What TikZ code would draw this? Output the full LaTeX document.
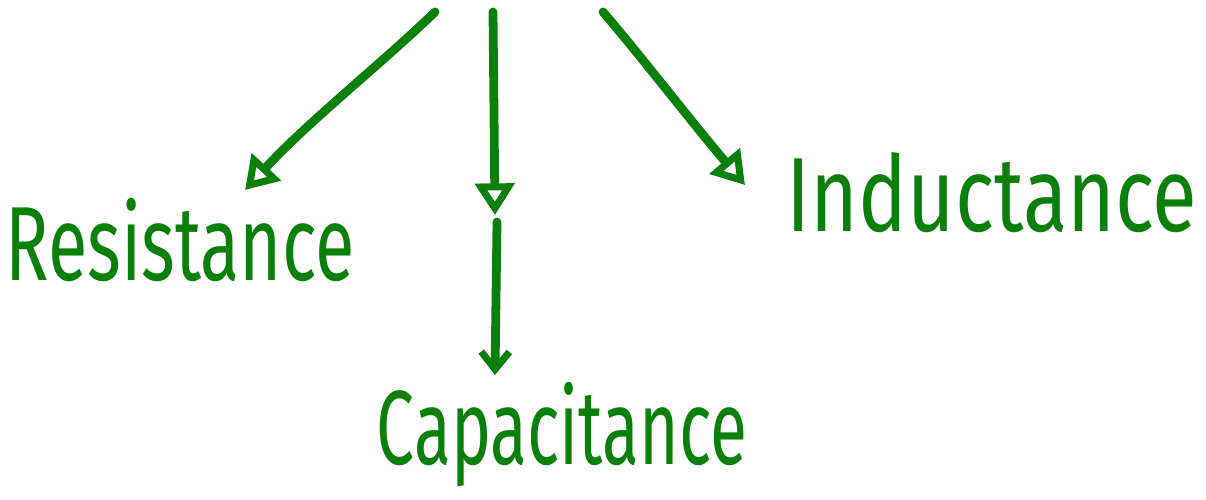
\documentclass[tikz,border=0pt]{standalone}
\usepackage{fontspec}
\usepackage{graphicx}
\setmainfont{Fira Sans}
\usetikzlibrary{arrows.meta}
\definecolor{penGreen}{RGB}{10,128,10}
\newcommand{\squeezed}[2]{\scalebox{#1}[1.2]{#2}}
\tikzset{
  pen/.style={penGreen, line width=5pt, line cap=round, line join=round},
  word/.style={text=penGreen, font=\fontsize{50}{60}\selectfont, inner sep=0pt},
  opentip/.style={-{Triangle[open, length=18pt, width=22pt, line width=4pt]}},
  barbtip/.style={-{Straight Barb[length=10pt, width=16pt, line width=4pt]}}
}
\begin{document}
\begin{tikzpicture}
  \useasboundingbox (0,0) rectangle (24.12,10);
  % Beschriftungen
  \node[word] (res) at (3.6,5.2) {\squeezed{0.82}{Resistance}};
  \node[word] (cap) at (11.24,1.3) {\squeezed{0.77}{Capacitance}};
  \node[word] (ind) at (19.84,6.15) {\squeezed{0.93}{Inductance}};
  % Startpunkte oben
  \coordinate (topL) at (8.7,9.76);
  \coordinate (topM) at (9.86,9.76);
  \coordinate (topR) at (12.06,9.76);
  \coordinate (midM) at (9.9,5.7);
  \coordinate (endM) at (9.9,2.5);
  \coordinate (endL) at (4.9,6.2);
  \coordinate (endR) at (14.9,6.3);
  % Pfeile
  \draw[pen, opentip] (topL) .. controls (7.6,8.7) and (6.2,7.6) .. (endL);
  \draw[pen, opentip] (topM) -- (midM);
  \draw[pen, barbtip] (9.94,5.56) -- (endM);
  \draw[pen, opentip] (topR) .. controls (12.8,8.9) and (13.8,7.6) .. (endR);
\end{tikzpicture}
\end{document}
